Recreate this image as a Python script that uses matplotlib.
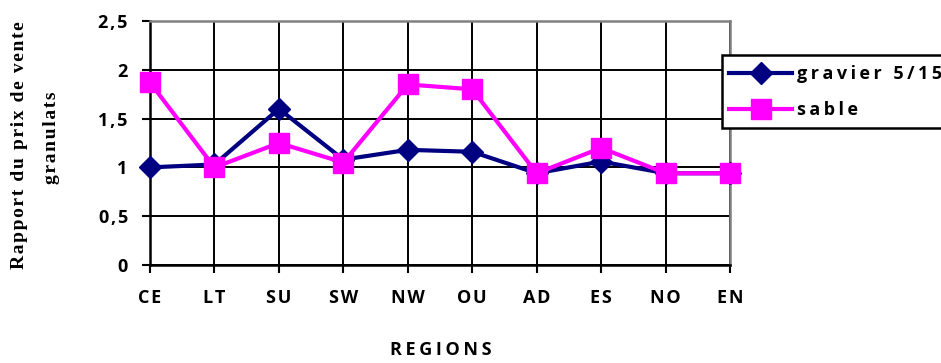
import numpy as np
import matplotlib
matplotlib.use("Agg")
import matplotlib.pyplot as plt
from matplotlib.patches import Rectangle

# prix relatif des granulats par region
regions = ["CE", "LT", "SU", "SW", "NW", "OU", "AD", "ES", "NO", "EN"]
gravier = [1.00, 1.03, 1.60, 1.08, 1.18, 1.16, 0.94, 1.06, 0.94, 0.94]
sable = [1.87, 1.00, 1.25, 1.05, 1.85, 1.80, 0.94, 1.20, 0.94, 0.94]
yticks = [0, 0.5, 1, 1.5, 2, 2.5]
ytick_labels = ["0", "0,5", "1", "1,5", "2", "2,5"]


def spaced(s, sep="\u200A"):
    # poor man's letter spacing
    return sep.join(s)


sans = ["Open Sans", "DejaVu Sans"]
serif = ["Liberation Serif", "DejaVu Serif"]
W, H = 941, 363

fig = plt.figure(figsize=(W / 100, H / 100), dpi=100)
ax = fig.add_axes([150 / W, 1 - 265 / H, 580 / W, 244 / H])

x = np.arange(len(regions))
ax.plot(x, gravier, color="#000080", lw=3, marker="D", ms=11,
        label=spaced("gravier 5/15", "\u200A\u200A"), clip_on=False, zorder=3)
ax.plot(x, sable, color="#FF00FF", lw=3, marker="s", ms=14,
        label=spaced("sable", "\u200A\u200A"), clip_on=False, zorder=4)

ax.set_xlim(0, 9)
ax.set_ylim(0, 2.5)
ax.set_xticks(x)
ax.set_xticklabels([spaced(r) for r in regions], family=sans,
                   fontweight="bold", fontsize=13)
ax.set_yticks(yticks)
ax.set_yticklabels([spaced(t) for t in ytick_labels], family=sans,
                   fontweight="bold", fontsize=13)
ax.tick_params(axis="x", direction="out", length=6, width=1.5, pad=11)
ax.tick_params(axis="y", direction="out", length=6, width=1.5, pad=10)

ax.grid(True, color="black", lw=1.4)
ax.set_axisbelow(True)
for side in ["left", "bottom"]:
    ax.spines[side].set_color("black")
    ax.spines[side].set_linewidth(1.8)
for side in ["top", "right"]:
    ax.spines[side].set_color("#808080")
    ax.spines[side].set_linewidth(1.8)

fig.text(441 / W, 1 - 350 / H, spaced("REGIONS", "\u2009"), ha="center",
         va="center", family=sans, fontweight="bold", fontsize=13)

fig.text(20 / W, 1 - 145 / H, spaced("Rapport du prix de vente"),
         rotation=90, ha="center", va="center", family=serif,
         fontweight="bold", fontsize=14)
fig.text(51 / W, 1 - 138 / H, spaced("granulats"),
         rotation=90, ha="center", va="center", family=serif,
         fontweight="bold", fontsize=14)

# legend box runs past the right edge of the figure
fig.patches.append(Rectangle((722 / W, 1 - 128 / H), 240 / W, 73 / H,
                             transform=fig.transFigure, facecolor="white",
                             edgecolor="black", lw=1.8, zorder=5))
leg = fig.legend(loc="center left", bbox_to_anchor=(729 / W, 1 - 92 / H),
                 prop={"family": sans, "weight": "bold", "size": 13},
                 handlelength=3.5, handletextpad=0.28, labelspacing=1.0,
                 borderpad=0, borderaxespad=0, frameon=False)
leg.set_zorder(6)

fig.savefig("out.png", dpi=100)
